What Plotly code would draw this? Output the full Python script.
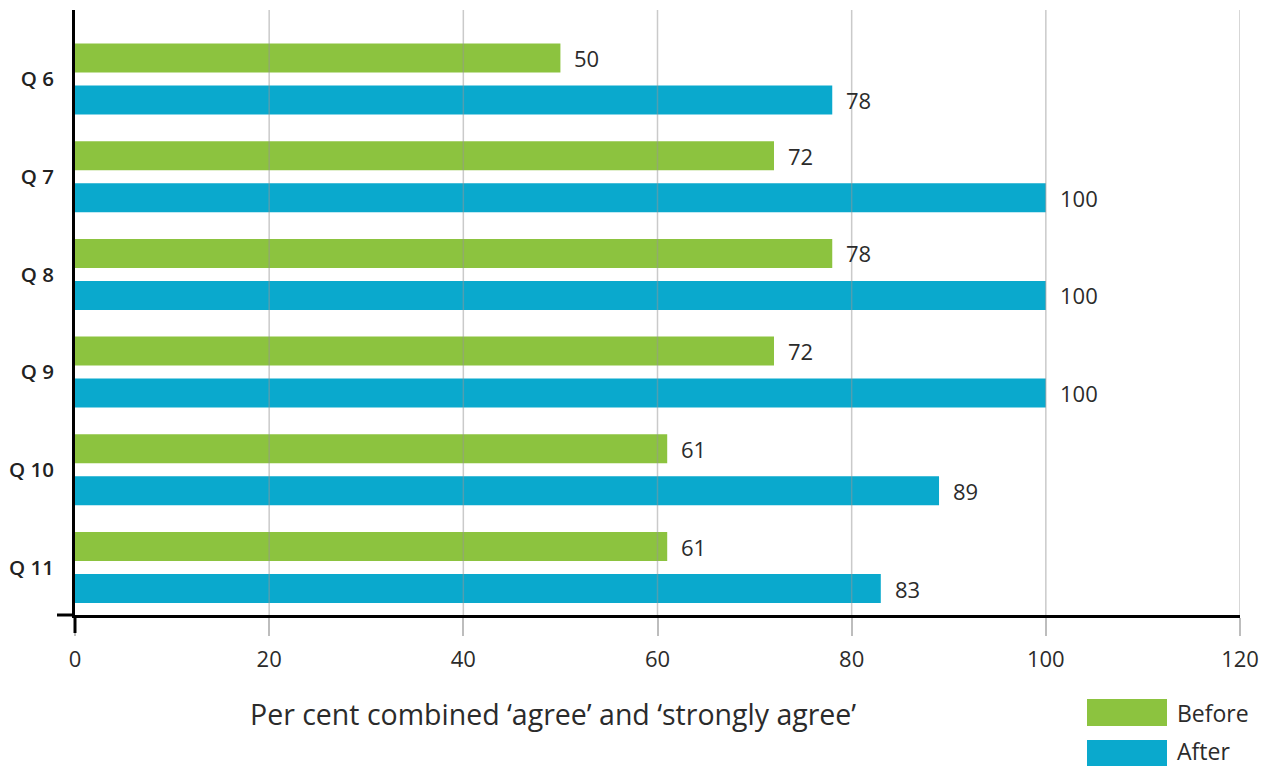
import plotly.graph_objects as go

questions = ["Q 6", "Q 7", "Q 8", "Q 9", "Q 10", "Q 11"]
before = [50, 72, 78, 72, 61, 61]
after = [78, 100, 100, 100, 89, 83]
x_ticks = [0, 20, 40, 60, 80, 100, 120]
series_names = ["Before", "After"]
x_title = "Per cent combined \u2018agree\u2019 and \u2018strongly agree\u2019"

GREEN = "#8cc33f"
BLUE = "#0aa9cd"
TXT = "#2b2b2b"
FONT = "Open Sans"

W, H = 1261, 766
ML, MR, MT, MB = 75, 21, 10, 151
PW, PH = W - ML - MR, H - MT - MB

def px_x(p):
    return (p - ML) / PW

def px_y(p):
    return (H - MB - p) / PH

fig = go.Figure()
fig.add_trace(go.Bar(name=series_names[0], y=questions, x=before, orientation="h",
                     marker=dict(color=GREEN, line=dict(width=0)), hoverinfo="x+y"))
fig.add_trace(go.Bar(name=series_names[1], y=questions, x=after, orientation="h",
                     marker=dict(color=BLUE, line=dict(width=0)), hoverinfo="x+y"))

annotations = []
for q, v in zip(questions, before):
    annotations.append(dict(x=v, y=q, xref="x", yref="y", text=str(v), showarrow=False,
                            xanchor="left", yanchor="middle", xshift=12, yshift=21,
                            font=dict(family=FONT, size=22, color=TXT)))
for q, v in zip(questions, after):
    annotations.append(dict(x=v, y=q, xref="x", yref="y", text=str(v), showarrow=False,
                            xanchor="left", yanchor="middle", xshift=12, yshift=-21,
                            font=dict(family=FONT, size=22, color=TXT)))

# axis title
annotations.append(dict(x=px_x(553), y=px_y(714), xref="paper", yref="paper", text=x_title,
                        showarrow=False, xanchor="center", yanchor="middle",
                        font=dict(family=FONT, size=28.5, color=TXT)))
# legend labels
annotations.append(dict(x=px_x(1175), y=px_y(713), xref="paper", yref="paper", text=series_names[0],
                        showarrow=False, xanchor="left", yanchor="middle",
                        font=dict(family=FONT, size=23, color=TXT)))
annotations.append(dict(x=px_x(1175), y=px_y(751), xref="paper", yref="paper", text=series_names[1],
                        showarrow=False, xanchor="left", yanchor="middle",
                        font=dict(family=FONT, size=23, color=TXT)))

shapes = []
# gridlines above bars (semi-transparent)
for t in x_ticks[1:]:
    shapes.append(dict(type="line", xref="x", yref="paper", x0=t, x1=t, y0=0, y1=1,
                       layer="above", line=dict(color="rgba(150,150,150,0.5)", width=1.5)))
# axis extensions
shapes.append(dict(type="line", xref="paper", yref="paper", x0=px_x(57), x1=0, y0=0, y1=0,
                   layer="above", line=dict(color="black", width=3)))
shapes.append(dict(type="line", xref="paper", yref="paper", x0=0, x1=0, y0=px_y(633), y1=0,
                   layer="above", line=dict(color="black", width=3)))
# legend swatches
shapes.append(dict(type="rect", xref="paper", yref="paper", x0=px_x(1087), x1=px_x(1167),
                   y0=px_y(726), y1=px_y(699), fillcolor=GREEN, line=dict(width=0)))
shapes.append(dict(type="rect", xref="paper", yref="paper", x0=px_x(1087), x1=px_x(1167),
                   y0=px_y(768), y1=px_y(740), fillcolor=BLUE, line=dict(width=0)))

fig.update_layout(
    width=W, height=H,
    margin=dict(l=ML, r=MR, t=MT, b=MB, pad=0, autoexpand=False),
    paper_bgcolor="white", plot_bgcolor="white",
    barmode="group", bargap=0.14, bargroupgap=0.31,
    showlegend=False,
    font=dict(family=FONT, color=TXT),
    annotations=annotations,
    shapes=shapes,
    xaxis=dict(range=[0, 120], tickvals=x_ticks, showgrid=False, zeroline=False,
               showline=True, linecolor="black", linewidth=3, automargin=False,
               ticks="outside", ticklen=18, tickwidth=1.5, tickcolor="#bdbdbd",
               ticklabelstandoff=5,
               tickfont=dict(family=FONT, size=22, color=TXT), fixedrange=True),
    yaxis=dict(categoryorder="array", categoryarray=questions, range=[5.486, -0.706],
               showgrid=False, zeroline=False, showline=True, linecolor="black", linewidth=3,
               ticks="", ticklabelstandoff=14, automargin=False,
               tickfont=dict(family=FONT, size=20.5, color="#222222", weight=600), fixedrange=True),
)

fig.write_html("out.html", config={"displayModeBar": False},
               post_script="document.body.style.margin='0';document.body.style.overflow='hidden';")
